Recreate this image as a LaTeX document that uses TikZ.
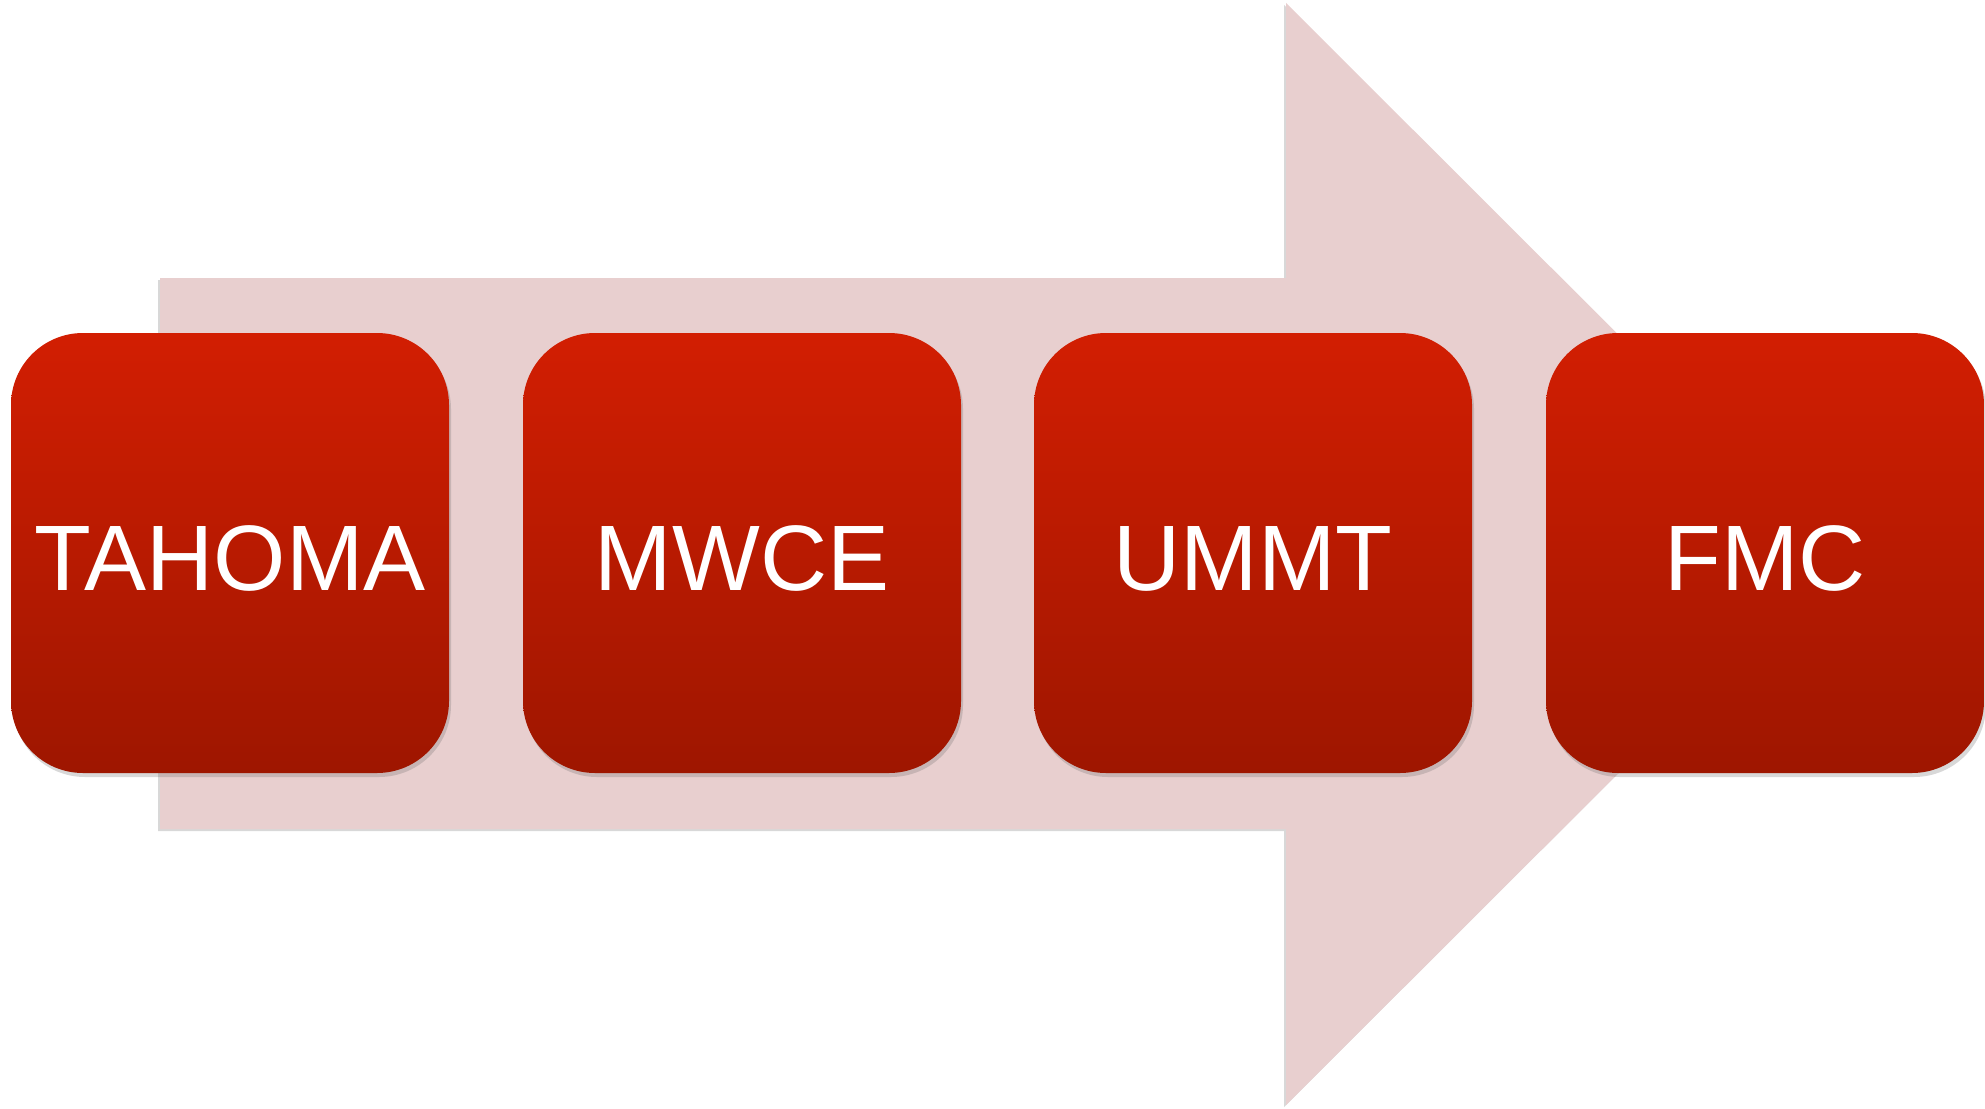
\documentclass[tikz,border=0pt]{standalone}
\usepackage{fontspec}
\setmainfont{Liberation Sans}
\usetikzlibrary{shadows,calc}
\definecolor{arrowpink}{HTML}{E8CFCF}
\definecolor{boxtop}{HTML}{D21E02}
\definecolor{boxbot}{HTML}{9E1600}
\tikzset{
  stagebox/.style={rounded corners=72pt, minimum width=438pt, minimum height=440pt,
    top color=boxtop, bottom color=boxbot, draw=none, text=white,
    font=\fontsize{93}{93}\selectfont, inner sep=0pt, text height=75pt, text depth=0pt,
    drop shadow={shadow xshift=2pt, shadow yshift=-4pt, opacity=0.25, fill=black!60}},
  bigarrow/.style={fill=arrowpink, draw=none,
    drop shadow={shadow xshift=-2pt, shadow yshift=-2pt, opacity=0.25, fill=black!60}}
}
\begin{document}
\begin{tikzpicture}[x=1pt,y=-1pt]
\useasboundingbox (0,0) rectangle (1985,1108);
\fill[white] (0,0) rectangle (1985,1108);
% big arrow
\coordinate (s1) at (160,278);
\coordinate (h1) at (1286,278);
\coordinate (h2) at (1286,3);
\coordinate (tip) at (1838,554);
\coordinate (h3) at (1286,1105);
\coordinate (h4) at (1286,829);
\coordinate (s2) at (160,829);
\path[bigarrow] (s1) -- (h1) -- (h2) -- (tip) -- (h3) -- (h4) -- (s2) -- cycle;
% boxes
\node[stagebox] (b1) at (230,553) {TAHOMA};
\node[stagebox] (b2) at (742,553) {MWCE};
\node[stagebox] (b3) at (1253,553) {UMMT};
\node[stagebox] (b4) at (1765,553) {FMC};
\end{tikzpicture}
\end{document}
